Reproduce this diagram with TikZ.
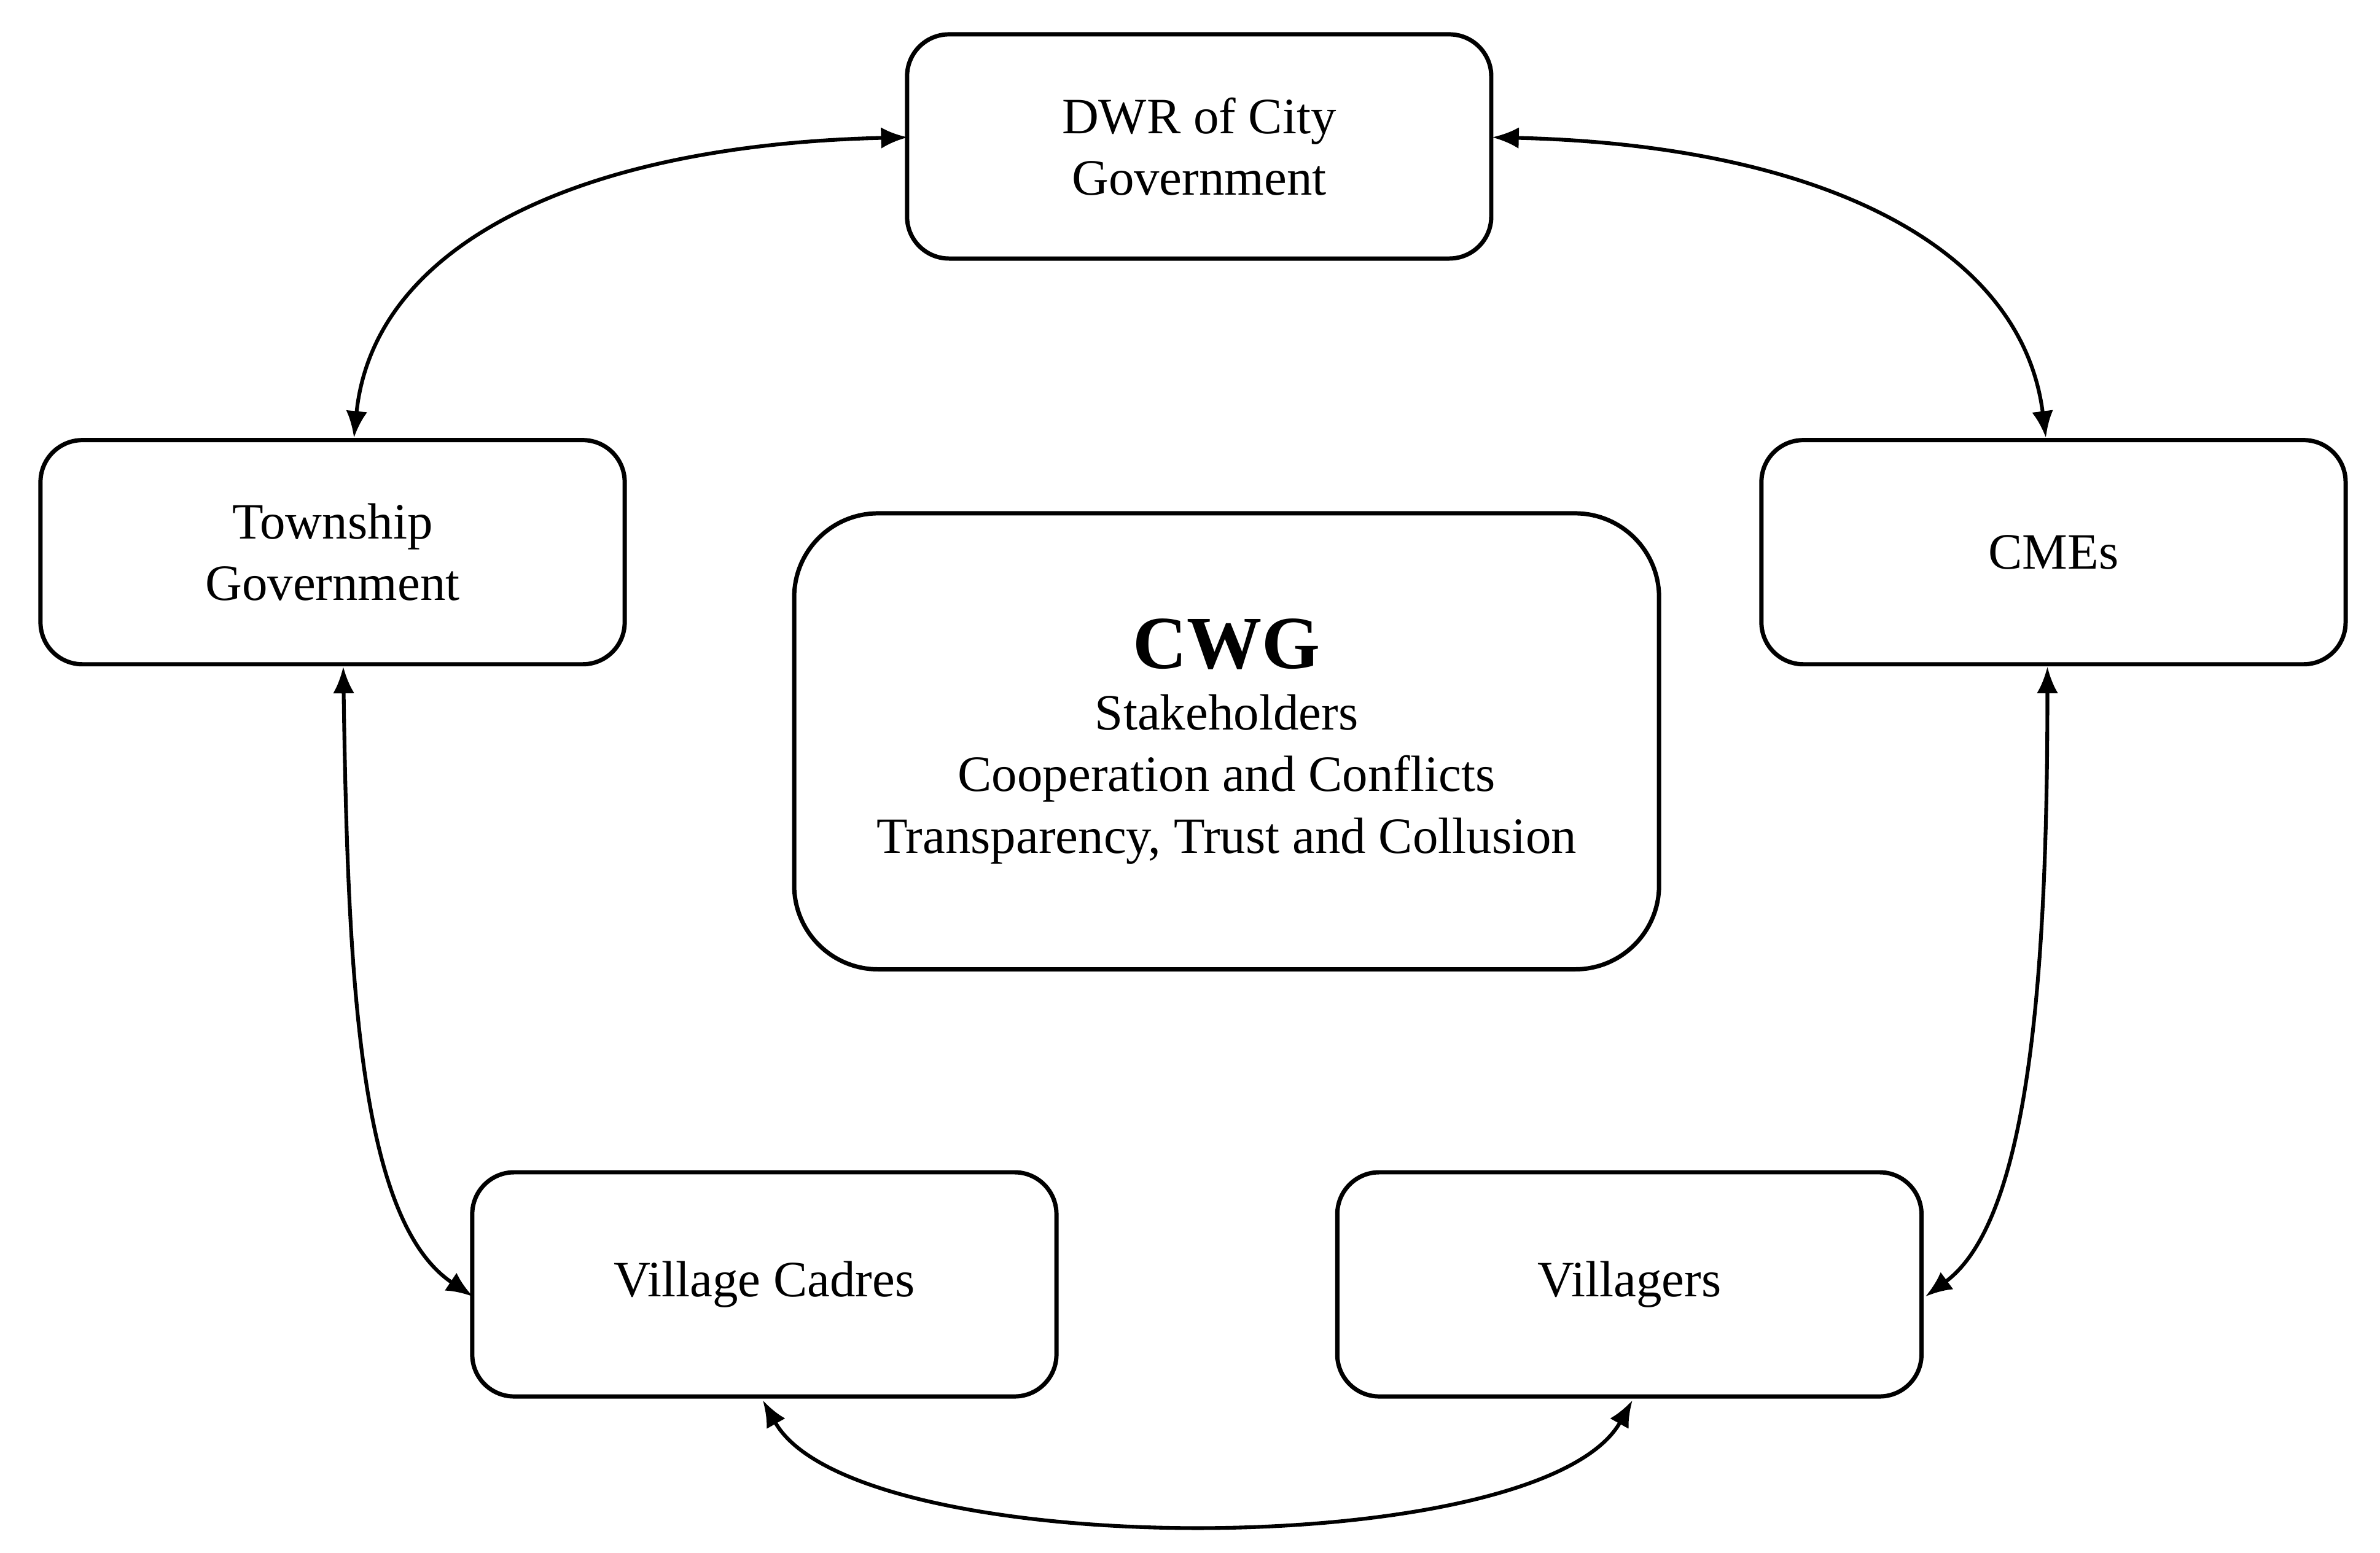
\documentclass[tikz,border=0pt]{standalone}
\usepackage{fontspec}
\setmainfont{Liberation Serif}
\usetikzlibrary{arrows.meta}
\begin{document}
\begin{tikzpicture}[x=0.02cm,y=-0.02cm,
 box/.style={draw,line width=1.6pt,rounded corners=0.55cm,minimum width=7.66cm,minimum height=2.94cm,align=center,font=\fontsize{19}{23}\selectfont},
 link/.style={line width=1.4pt,{Latex[length=0.35cm,width=0.28cm]}-{Latex[length=0.35cm,width=0.28cm]}}]
\useasboundingbox (0,0) rectangle (1560,1018);
\node[box] (dwr) at (786,96) {DWR of City\\Government};
\node[box] (tw) at (218,362) {Township\\Government};
\node[box] (cme) at (1346,362) {CMEs};
\node[box,minimum width=11.34cm,minimum height=5.98cm,rounded corners=1.1cm] (cwg) at (804,486) {{\fontsize{28}{32}\selectfont\bfseries CWG}\\Stakeholders\\Cooperation and Conflicts\\Transparency, Trust and Collusion};
\node[box] (vc) at (501,842) {Village Cadres};
\node[box] (vl) at (1068,842) {Villagers};
\coordinate (a1) at (595,90);
\coordinate (a2) at (978,90);
\coordinate (t1) at (232,287);
\coordinate (c1) at (1341,287);
\coordinate (t2) at (225,437);
\coordinate (c2) at (1342,437);
\coordinate (v1) at (310,850);
\coordinate (v2) at (1262,850);
\coordinate (b1) at (500,918);
\coordinate (b2) at (1070,918);
\draw[link] (a1) .. controls (380,95) and (245,160) .. (t1);
\draw[link] (a2) .. controls (1190,95) and (1325,160) .. (c1);
\draw[link] (t2) .. controls (228,640) and (235,800) .. (v1);
\draw[link] (c2) .. controls (1342,640) and (1330,800) .. (v2);
\draw[link] (b1) .. controls (560,1025) and (1010,1025) .. (b2);
\end{tikzpicture}
\end{document}
